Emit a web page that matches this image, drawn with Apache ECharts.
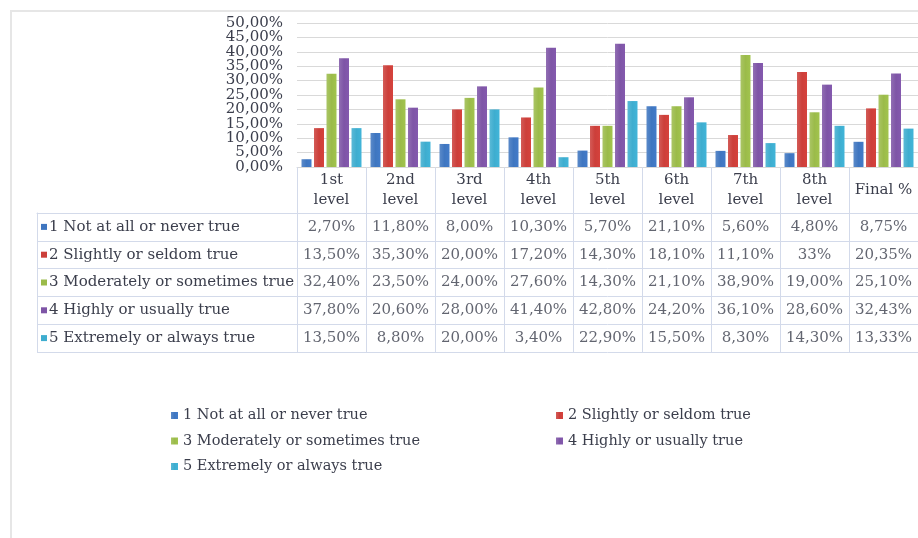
<!DOCTYPE html>
<html>
<head>
<meta charset="utf-8">
<script src="https://cdn.jsdelivr.net/npm/echarts@6/dist/echarts.min.js"></script>
<style>
html,body{margin:0;padding:0;background:#fff;}
#chart{width:918px;height:538px;}
</style>
</head>
<body>
<div id="chart"></div>
<script>
// ---- data ----
const categories = ['1st\nlevel', '2nd\nlevel', '3rd\nlevel', '4th\nlevel', '5th\nlevel', '6th\nlevel', '7th\nlevel', '8th\nlevel', 'Final %'];
const seriesNames = [
  '1 Not at all or never true',
  '2 Slightly or seldom true',
  '3 Moderately or sometimes true',
  '4 Highly or usually true',
  '5 Extremely or always true'
];
const notAtAll    = [2.70, 11.80, 8.00, 10.30, 5.70, 21.10, 5.60, 4.80, 8.75];
const slightly    = [13.50, 35.30, 20.00, 17.20, 14.30, 18.10, 11.10, 33.00, 20.35];
const moderately  = [32.40, 23.50, 24.00, 27.60, 14.30, 21.10, 38.90, 19.00, 25.10];
const highly      = [37.80, 20.60, 28.00, 41.40, 42.80, 24.20, 36.10, 28.60, 32.43];
const extremely   = [13.50, 8.80, 20.00, 3.40, 22.90, 15.50, 8.30, 14.30, 13.33];
const seriesValues = [notAtAll, slightly, moderately, highly, extremely];
const yTicks = [0, 5, 10, 15, 20, 25, 30, 35, 40, 45, 50];
// cell texts written differently in the source table: "col,row"
const cellTextOverrides = { '7,1': '33%' };

const colors = ['#3f76c0', '#cc3f3a', '#9bbb4a', '#7e55a6', '#3eadcf'];
const FONT = 'DejaVu Serif';
const TXT = '#3b3e4c';
const BORDER = '#d3daea';

function pct(v) { return v.toFixed(2).replace('.', ',') + '%'; }

// tick labels split over two label axes so ECharts does not thin them out
const yTicksA = yTicks.filter((v, i) => i % 2 === 0);
const yTicksB = yTicks.filter((v, i) => i % 2 === 1);

// cells for the data table
const cells = [];
seriesValues.forEach((arr, r) => {
  arr.forEach((v, c) => cells.push([c, r, v]));
});

const rich = { t: { fontFamily: FONT, fontSize: 15, color: TXT, padding: [0, 0, 0, 2] } };
colors.forEach((c, i) => { rich['s' + i] = { width: 6, height: 6, backgroundColor: c }; });

const chart = echarts.init(document.getElementById('chart'), null, { renderer: 'canvas' });

const barSeries = seriesNames.map((name, i) => ({
  name: name,
  type: 'bar',
  xAxisIndex: 0,
  yAxisIndex: 0,
  data: seriesValues[i],
  barWidth: 10,
  barGap: '25%',
  itemStyle: {
    color: new echarts.graphic.LinearGradient(0, 0, 1, 0, [
      { offset: 0, color: echarts.color.lift(colors[i], 0.15) },
      { offset: 0.5, color: colors[i] },
      { offset: 1, color: echarts.color.lift(colors[i], -0.05) }
    ])
  }
}));

const yLabelStyle = (vals) => ({
  margin: 14, hideOverlap: false, showMinLabel: true, showMaxLabel: true,
  customValues: vals,
  fontFamily: FONT, fontSize: 15, color: TXT,
  formatter: v => pct(v)
});

const option = {
  animation: false,
  backgroundColor: '#ffffff',
  color: colors,
  graphic: [{
    type: 'rect',
    shape: { x: 11, y: 11, width: 1000, height: 600 },
    style: { fill: 'none', stroke: '#e6e6e6', lineWidth: 2 },
    silent: true,
    z: -10
  }],
  legend: [
    {
      data: [seriesNames[0], seriesNames[2], seriesNames[4]],
      orient: 'vertical',
      left: 166, top: 402,
      icon: 'rect', itemWidth: 7, itemHeight: 7, itemGap: 8.5,
      textStyle: { fontFamily: FONT, fontSize: 14.5, color: TXT, lineHeight: 17 }
    },
    {
      data: [seriesNames[1], seriesNames[3]],
      orient: 'vertical',
      left: 551, top: 402,
      icon: 'rect', itemWidth: 7, itemHeight: 7, itemGap: 8.5,
      textStyle: { fontFamily: FONT, fontSize: 14.5, color: TXT, lineHeight: 17 }
    }
  ],
  grid: [
    { left: 297, right: -12, top: 23, height: 144 },      // bars
    { left: 297, right: -12, top: 213, height: 139 },     // table values
    { left: 37, width: 260, top: 213, height: 139 }       // table row labels
  ],
  xAxis: [
    {
      type: 'category', gridIndex: 0, data: categories,
      axisLine: { show: true, lineStyle: { color: '#d9d9d9' } },
      axisTick: { show: true, interval: 0, length: 46, lineStyle: { color: BORDER } },
      axisLabel: {
        interval: 0, fontFamily: FONT, fontSize: 15, color: TXT, lineHeight: 20,
        margin: 23, verticalAlign: 'middle'
      }
    },
    {
      type: 'category', gridIndex: 1, data: categories, position: 'top',
      axisLine: { show: true, lineStyle: { color: BORDER } },
      axisTick: { show: false }, axisLabel: { show: false },
      splitLine: { show: true, interval: 0, lineStyle: { color: BORDER } }
    },
    {
      type: 'value', gridIndex: 2, position: 'top', min: 0, max: 1,
      axisLine: { show: true, lineStyle: { color: BORDER } },
      axisTick: { show: false }, axisLabel: { show: false }, splitLine: { show: false }
    }
  ],
  yAxis: [
    {
      type: 'value', gridIndex: 0, min: 0, max: 50, interval: 5,
      axisLine: { show: false }, axisTick: { show: false },
      axisLabel: yLabelStyle(yTicksA),
      splitLine: { show: true, lineStyle: { color: '#d9d9d9' } }
    },
    {
      type: 'category', gridIndex: 1, data: seriesNames, inverse: true,
      axisLine: { show: true, lineStyle: { color: BORDER } },
      axisTick: { show: false }, axisLabel: { show: false },
      splitLine: { show: true, interval: 0, lineStyle: { color: BORDER } }
    },
    {
      type: 'category', gridIndex: 2, data: seriesNames, inverse: true,
      axisLine: { show: true, lineStyle: { color: BORDER } },
      axisTick: { show: false },
      axisLabel: {
        inside: true, margin: 4, align: 'left',
        formatter: (v, i) => '{s' + i + '|}{t|' + v + '}',
        rich: rich
      },
      splitLine: { show: true, interval: 0, lineStyle: { color: BORDER } }
    },
    {
      type: 'value', gridIndex: 0, min: 0, max: 50, interval: 5, position: 'left',
      axisLine: { show: false }, axisTick: { show: false },
      axisLabel: yLabelStyle(yTicksB),
      splitLine: { show: false }
    }
  ],
  series: barSeries.concat([
    {
      name: 'table',
      type: 'scatter',
      xAxisIndex: 1, yAxisIndex: 1,
      data: cells,
      symbol: 'circle', symbolSize: 1,
      itemStyle: { color: 'rgba(0,0,0,0)' },
      silent: true,
      label: {
        show: true, position: 'inside',
        fontFamily: FONT, fontSize: 15, color: TXT,
        formatter: p => {
          const key = p.value[0] + ',' + p.value[1];
          return cellTextOverrides[key] || pct(p.value[2]);
        }
      }
    }
  ])
};

chart.setOption(option);
</script>
</body>
</html>
